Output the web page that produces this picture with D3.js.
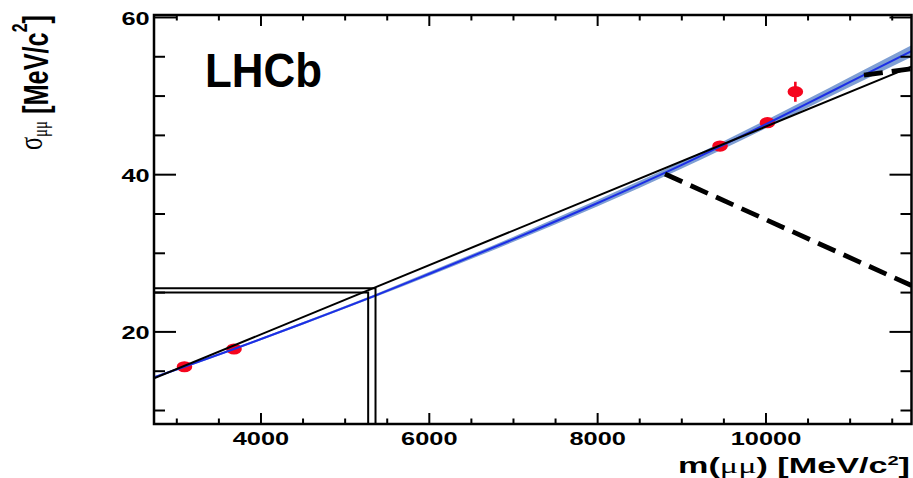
<!DOCTYPE html>
<html>
<head>
<meta charset="utf-8">
<script src="https://cdn.jsdelivr.net/npm/d3@7"></script>
<style>
  body { margin: 0; background: #fff; }
  svg { display: block; }
  text { font-family: "Liberation Sans", Arial, Helvetica, sans-serif; font-weight: bold; fill: #000; }
  .greek { font-family: "Liberation Serif", "DejaVu Serif", serif; font-weight: normal; }
</style>
</head>
<body>
<div id="chart"></div>
<script>
// resonances: J/psi, psi(2S), Y(1S), Y(2S), Y(3S)
var resMass = [3097, 3686, 9460, 10023, 10355];
var resSigma = [15.5, 17.76, 43.58, 46.55, 50.49];
var resError = [0.2, 0.2, 0.25, 0.25, 1.27];

// fitted curve (blue) with its band
var fitMass = [2735, 3097, 3686, 4500, 5340, 6000, 7000, 8000, 9000, 9460, 10023, 10500, 11000, 11735];
var fitSigma = [14.15, 15.5, 17.76, 21.0, 24.45, 27.3, 31.7, 36.3, 41.15, 43.5, 46.45, 49.0, 51.7, 55.65];
var fitBand = [0.12, 0.12, 0.13, 0.15, 0.18, 0.25, 0.32, 0.4, 0.45, 0.48, 0.52, 0.56, 0.62, 0.75];

// straight line (black)
var lineMass = [2735, 11735];
var lineSigma = [14.02, 53.68];

// B0 and Bs mass windows
var bMass = [5279.6, 5366.9];
var bSigma = [24.95, 25.5];

// dashed lines
var dashAMass = [8806, 11735];
var dashASigma = [40.03, 25.84];
var dashBMass = [11170, 11735];
var dashBSigma = [52.6, 53.4];

// ticks
var xTicks = [4000, 6000, 8000, 10000];
var xMinor = [3000, 3500, 4500, 5000, 5500, 6500, 7000, 7500, 8500, 9000, 9500, 10500, 11000, 11500];
var yTicks = [20, 40, 60];
var yMinor = [10, 15, 25, 30, 35, 45, 50, 55];

var W = 913, H = 478;
var margin = { top: 15, right: 1.5, bottom: 54, left: 154 },
  width = W - margin.left - margin.right,
  height = H - margin.top - margin.bottom;
var stretch = 1.45; // the picture is wider than tall, text gets squashed

var root = d3
  .select("#chart")
  .append("svg")
  .attr("width", W)
  .attr("height", H);

var svg = root
  .append("g")
  .attr("transform", "translate(" + margin.left + "," + margin.top + ")");

var x = d3.scaleLinear().domain([2735, 11735]).range([0, width]);
var y = d3.scaleLinear().domain([8.22, 60.25]).range([height, 0]);

svg
  .append("clipPath")
  .attr("id", "clip")
  .append("rect")
  .attr("width", width)
  .attr("height", height);

var plot = svg.append("g").attr("clip-path", "url(#clip)");

// band
var fitData = fitMass.map(function (m, i) {
  return { m: m, s: fitSigma[i], e: fitBand[i] };
});
plot
  .append("path")
  .datum(fitData)
  .attr("fill", "#7f9fd4")
  .attr(
    "d",
    d3
      .area()
      .curve(d3.curveMonotoneX)
      .x(function (d) { return x(d.m); })
      .y0(function (d) { return y(d.s - d.e); })
      .y1(function (d) { return y(d.s + d.e); })
  );

// points
var resData = resMass.map(function (m, i) {
  return { m: m, s: resSigma[i], e: resError[i] };
});
plot
  .selectAll("line.err")
  .data(resData)
  .enter()
  .append("line")
  .attr("class", "err")
  .attr("x1", function (d) { return x(d.m); })
  .attr("x2", function (d) { return x(d.m); })
  .attr("y1", function (d) { return y(d.s - d.e); })
  .attr("y2", function (d) { return y(d.s + d.e); })
  .attr("stroke", "#f5051e")
  .attr("stroke-width", 2.6);
plot
  .selectAll("ellipse")
  .data(resData)
  .enter()
  .append("ellipse")
  .attr("cx", function (d) { return x(d.m); })
  .attr("cy", function (d) { return y(d.s); })
  .attr("rx", 7.8)
  .attr("ry", 5.6)
  .attr("fill", "#f5051e");

// blue curve
plot
  .append("path")
  .datum(fitData)
  .attr("fill", "none")
  .attr("stroke", "#1c2fe6")
  .attr("stroke-width", 2)
  .attr(
    "d",
    d3
      .line()
      .curve(d3.curveMonotoneX)
      .x(function (d) { return x(d.m); })
      .y(function (d) { return y(d.s); })
  );

var line = d3
  .line()
  .x(function (d) { return x(d[0]); })
  .y(function (d) { return y(d[1]); });

// black line
plot
  .append("path")
  .datum(d3.zip(lineMass, lineSigma))
  .attr("fill", "none")
  .attr("stroke", "#000")
  .attr("stroke-width", 2)
  .attr("d", line);

// B mass windows
bMass.forEach(function (m, i) {
  plot
    .append("path")
    .datum([[x.domain()[0], bSigma[i]], [m, bSigma[i]], [m, y.domain()[0]]])
    .attr("fill", "none")
    .attr("stroke", "#000")
    .attr("stroke-width", 2)
    .attr("d", line);
});

// dashed lines
[[dashAMass, dashASigma], [dashBMass, dashBSigma]].forEach(function (p) {
  plot
    .append("path")
    .datum(d3.zip(p[0], p[1]))
    .attr("fill", "none")
    .attr("stroke", "#000")
    .attr("stroke-width", 4.8)
    .attr("stroke-dasharray", "19,9")
    .attr("d", line);
});

// axes, ROOT style ticks inside the frame
function styleAxis(g) {
  g.select(".domain").remove();
  g.selectAll(".tick line").attr("stroke", "#000").attr("stroke-width", 2);
}

svg
  .append("g")
  .attr("transform", "translate(0," + height + ")")
  .call(d3.axisBottom(x).tickValues(xMinor).tickSize(-5.5).tickFormat(""))
  .call(styleAxis);
svg
  .append("g")
  .call(d3.axisTop(x).tickValues(xMinor).tickSize(-5.5).tickFormat(""))
  .call(styleAxis);
svg
  .append("g")
  .call(d3.axisTop(x).tickValues(xTicks).tickSize(-11).tickFormat(""))
  .call(styleAxis);
var xAxis = svg
  .append("g")
  .attr("transform", "translate(0," + height + ")")
  .call(d3.axisBottom(x).tickValues(xTicks).tickSize(-11).tickPadding(8.6).tickFormat(d3.format("d")))
  .call(styleAxis);
xAxis
  .selectAll("text")
  .attr("font-size", 17.5)
  .attr("font-family", null)
  .attr("transform", "scale(" + stretch + ",1)");

svg
  .append("g")
  .call(d3.axisLeft(y).tickValues(yMinor).tickSize(-11).tickFormat(""))
  .call(styleAxis);
svg
  .append("g")
  .attr("transform", "translate(" + width + ",0)")
  .call(d3.axisRight(y).tickValues(yMinor).tickSize(-11).tickFormat(""))
  .call(styleAxis);
svg
  .append("g")
  .attr("transform", "translate(" + width + ",0)")
  .call(d3.axisRight(y).tickValues(yTicks).tickSize(-22).tickFormat(""))
  .call(styleAxis);
var yAxis = svg
  .append("g")
  .call(d3.axisLeft(y).tickValues(yTicks).tickSize(-22).tickPadding(3))
  .call(styleAxis);
yAxis
  .selectAll("text")
  .attr("font-size", 17.5)
  .attr("font-family", null)
  .attr("dy", "0.42em")
  .attr("transform", "scale(" + stretch + ",1)");

// frame
svg
  .append("rect")
  .attr("width", width)
  .attr("height", height)
  .attr("fill", "none")
  .attr("stroke", "#000")
  .attr("stroke-width", 2.5);

// x title
var xt = root.append("text").attr("text-anchor", "end").attr("font-size", 22);
xt.append("tspan").text("m(");
xt.append("tspan").attr("class", "greek").text("\u03bc\u03bc");
xt.append("tspan").text(") [MeV/c");
xt.append("tspan").attr("font-size", 13).attr("dy", -8).text("2");
xt.append("tspan").attr("dy", 8).text("]");
var xw = xt.node().getBBox().width;
xt.attr("transform", "translate(910,473) scale(" + 232 / xw + ",1)");

// y title
var yt = root.append("text").attr("font-size", 24);
yt.append("tspan").attr("class", "greek").attr("font-size", 23).attr("dy", -4).text("\u03c3");
yt.append("tspan").attr("class", "greek").attr("font-size", 14).attr("dy", 3.5).text("\u03bc\u03bc");
yt.append("tspan").attr("dy", 0.5).text(" [MeV/c");
yt.append("tspan").attr("font-size", 15).attr("dy", -14).text("2");
yt.append("tspan").attr("dy", 14).text("]");
var yw = yt.node().getBBox().width;
yt.attr("transform", "translate(48,150) rotate(-90) scale(" + 135 / yw + ",1.5)");

// LHCb label
var lab = root.append("text").attr("font-size", 48).text("LHCb");
var lw = lab.node().getBBox().width;
lab.attr("transform", "translate(205,87) scale(" + 117 / lw + ",1)");
</script>
</body>
</html>
